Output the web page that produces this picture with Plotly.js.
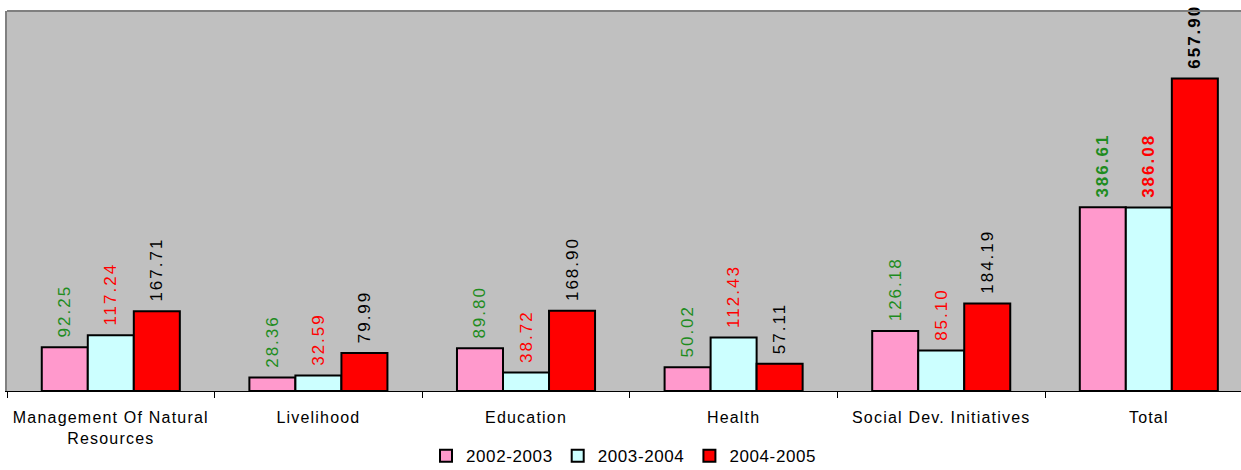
<!DOCTYPE html>
<html>
<head>
<meta charset="utf-8">
<script src="https://cdn.plot.ly/plotly-3.0.1.min.js"></script>
<style>
html,body{margin:0;padding:0;background:#fff;overflow:hidden;}
#chart{width:1241px;height:470px;}
.bartext{letter-spacing:2px;}
.xtick text{letter-spacing:1.2px;}
.legendtext{letter-spacing:0.6px;}
</style>
</head>
<body>
<div id="chart"></div>
<script>
var categories = ["Management Of Natural<br>Resources", "Livelihood", "Education", "Health", "Social Dev. Initiatives", "Total"];
var seriesNames = ["2002-2003", "2003-2004", "2004-2005"];
var values2002 = [92.25, 28.36, 89.80, 50.02, 126.18, 386.61];
var values2003 = [117.24, 32.59, 38.72, 112.43, 85.10, 386.08];
var values2004 = [167.71, 79.99, 168.90, 57.11, 184.19, 657.90];

var fillColors = ["#FF99CC", "#CCFFFF", "#FF0000"];
var labelColors = ["#1E8C1E", "#FF0000", "#000000"];
var allValues = [values2002, values2003, values2004];

function labels(arr) {
  return arr.map(function (v, i) {
    var s = v.toFixed(2);
    return "\u00A0" + (i === arr.length - 1 ? "<b>" + s + "</b>" : s);
  });
}

var traces = allValues.map(function (vals, k) {
  return {
    type: "bar",
    name: seriesNames[k],
    x: categories,
    y: vals,
    text: labels(vals),
    textposition: "outside",
    textangle: -90,
    constraintext: "none",
    cliponaxis: false,
    outsidetextfont: {family: "Liberation Sans, Arial, sans-serif", size: 17, color: labelColors[k]},
    marker: {color: fillColors[k], line: {color: "#000000", width: 2}},
    hoverinfo: "none"
  };
});

var layout = {
  width: 1241,
  height: 470,
  margin: {l: 7, r: 0, t: 11, b: 79, autoexpand: false},
  paper_bgcolor: "#FFFFFF",
  plot_bgcolor: "#C0C0C0",
  barmode: "group",
  bargap: 0.335,
  bargroupgap: 0,
  showlegend: true,
  legend: {
    orientation: "h",
    x: 0.5, xanchor: "center",
    y: -0.124, yanchor: "top",
    font: {family: "Liberation Sans, Arial, sans-serif", size: 17, color: "#000"},
    itemwidth: 30,
    tracegroupgap: 0
  },
  xaxis: {
    type: "category",
    range: [-0.5, 5.444],
    tickson: "boundaries",
    ticks: "outside",
    ticklen: 6,
    tickcolor: "#000",
    showline: true,
    linecolor: "#000",
    linewidth: 1,
    showgrid: false,
    tickfont: {family: "Liberation Sans, Arial, sans-serif", size: 16, color: "#000"},
    ticklabelstandoff: 12,
    fixedrange: true
  },
  yaxis: {
    range: [0, 800],
    showticklabels: false,
    ticks: "",
    showgrid: false,
    zeroline: false,
    showline: true,
    linecolor: "#808080",
    linewidth: 2,
    fixedrange: true
  },
  shapes: [{
    type: "line", xref: "paper", yref: "paper",
    x0: 0, x1: 1, y0: 1, y1: 1,
    line: {color: "#808080", width: 2}
  }]
};

Plotly.newPlot("chart", traces, layout, {displayModeBar: false, staticPlot: true});
</script>
</body>
</html>
